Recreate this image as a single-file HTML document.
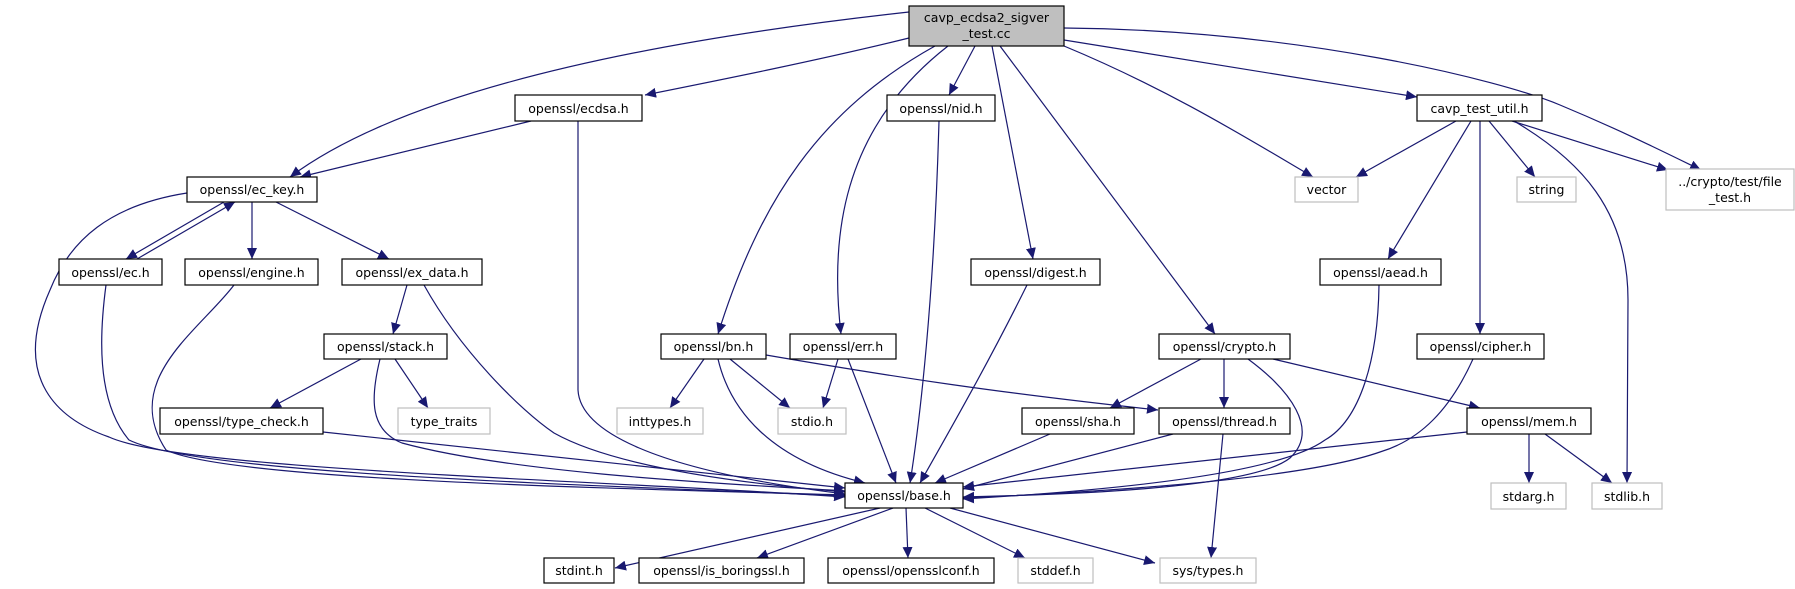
<!DOCTYPE html>
<html><head><meta charset="utf-8"><style>
html,body{margin:0;padding:0;background:#fff;}
svg{display:block;}
text{font-family:"DejaVu Sans","Liberation Sans",sans-serif;font-size:12.5px;fill:#000;}
.n{fill:#fff;stroke:#000;stroke-width:1.2;}
.g{fill:#fff;stroke:#bfbfbf;stroke-width:1.2;}
.e{fill:none;stroke:#191970;stroke-width:1.2;}
</style></head><body>
<svg width="1795" height="589" viewBox="0 0 1795 589" xmlns="http://www.w3.org/2000/svg">
<defs>
<marker id="a" markerUnits="userSpaceOnUse" markerWidth="12" markerHeight="10" refX="11" refY="5" orient="auto">
<path d="M0,0 L11,5 L0,10 z" fill="#191970"/>
</marker>
</defs>
<g marker-end="url(#a)">
<!-- root edges -->
<path class="e" d="M909,12 C700,35 420,80 290,177"/>
<path class="e" d="M909,38 C820,60 720,80 645,95"/>
<path class="e" d="M935,46 C820,110 760,200 718,334"/>
<path class="e" d="M948,46 C840,130 830,240 841,334"/>
<path class="e" d="M975,46 L949,95"/>
<path class="e" d="M992,46 L1033,259"/>
<path class="e" d="M1000,46 L1215,334"/>
<path class="e" d="M1064,46 C1170,90 1250,140 1313,177"/>
<path class="e" d="M1064,40 L1417,97"/>
<path class="e" d="M1064,28 C1300,30 1500,80 1560,105 C1620,130 1660,150 1701,170"/>
<!-- ecdsa -->
<path class="e" d="M531,121 L300,177"/>
<path class="e" d="M578,121 L578,390 C580,430 650,470 845,494"/>
<!-- ec_key -->
<path class="e" d="M224,202 L126,259"/>
<path class="e" d="M137,259 L235,202"/>
<path class="e" d="M252,202 L252,259"/>
<path class="e" d="M276,202 L389,259"/>
<path class="e" d="M187,193 C110,205 70,240 50,290 C10,380 60,420 109,437 C180,470 600,480 845,497"/>
<!-- ec, engine, ex_data -->
<path class="e" d="M106,285 C100,330 95,400 129,440 C200,475 600,485 845,496"/>
<path class="e" d="M234,285 C200,330 120,380 166,450 C230,480 600,488 845,495"/>
<path class="e" d="M407,285 L393,334"/>
<path class="e" d="M424,285 C460,350 520,410 554,433 C620,470 760,485 845,492"/>
<!-- stack -->
<path class="e" d="M361,359 L270,408"/>
<path class="e" d="M395,359 L428,408"/>
<path class="e" d="M380,359 C370,400 370,430 402,443 C520,475 750,485 845,491"/>
<path class="e" d="M323,432 L845,488"/>
<!-- nid, digest -->
<path class="e" d="M939,121 C934,300 920,420 910,483"/>
<path class="e" d="M1027,285 C990,360 950,430 920,483"/>
<!-- bn, err -->
<path class="e" d="M704,359 L670,408"/>
<path class="e" d="M730,359 L790,408"/>
<path class="e" d="M718,359 C730,410 770,460 865,483"/>
<path class="e" d="M766,355 C900,378 1000,393 1158,410"/>
<path class="e" d="M838,359 L823,408"/>
<path class="e" d="M848,359 L896,483"/>
<!-- crypto -->
<path class="e" d="M1201,359 L1110,408"/>
<path class="e" d="M1224,359 L1224,408"/>
<path class="e" d="M1248,359 C1290,390 1320,430 1290,458 C1250,490 1050,495 963,497"/>
<path class="e" d="M1273,359 L1480,408"/>
<!-- ctu -->
<path class="e" d="M1456,121 L1356,177"/>
<path class="e" d="M1471,121 L1388,259"/>
<path class="e" d="M1480,121 L1480,334"/>
<path class="e" d="M1489,121 L1535,177"/>
<path class="e" d="M1512,121 L1668,170"/>
<path class="e" d="M1514,121 C1580,160 1628,210 1628,300 L1627,483"/>
<!-- aead, cipher -->
<path class="e" d="M1379,285 C1378,360 1360,420 1325,440 C1270,480 1050,494 963,499"/>
<path class="e" d="M1473,359 C1450,410 1420,440 1380,452 C1300,480 1100,492 963,498"/>
<!-- sha, thread, mem -->
<path class="e" d="M1050,434 L935,483"/>
<path class="e" d="M1173,434 L963,489"/>
<path class="e" d="M1223,434 L1211,558"/>
<path class="e" d="M1467,432 L963,487"/>
<path class="e" d="M1529,434 L1529,483"/>
<path class="e" d="M1545,434 L1612,483"/>
<!-- base -->
<path class="e" d="M880,508 L615,568"/>
<path class="e" d="M893,508 L757,558"/>
<path class="e" d="M906,508 L908,558"/>
<path class="e" d="M925,508 L1025,558"/>
<path class="e" d="M950,508 L1155,563"/>
</g>
<!-- nodes -->
<rect x="909" y="6" width="155" height="40" fill="#bfbfbf" stroke="#000" stroke-width="1.2"/>
<text x="986.5" y="22" text-anchor="middle">cavp_ecdsa2_sigver</text>
<text x="986.5" y="38" text-anchor="middle">_test.cc</text>

<rect class="n" x="515" y="95" width="127" height="26"/><text x="578.5" y="113" text-anchor="middle">openssl/ecdsa.h</text>
<rect class="n" x="887" y="95" width="108" height="26"/><text x="941" y="113" text-anchor="middle">openssl/nid.h</text>
<rect class="n" x="1417" y="95" width="125" height="26"/><text x="1479.5" y="113" text-anchor="middle">cavp_test_util.h</text>

<rect class="n" x="187" y="177" width="130" height="25"/><text x="252" y="194" text-anchor="middle">openssl/ec_key.h</text>
<rect class="g" x="1295" y="177" width="63" height="25"/><text x="1326.5" y="194" text-anchor="middle">vector</text>
<rect class="g" x="1517" y="177" width="59" height="25"/><text x="1546.5" y="194" text-anchor="middle">string</text>
<rect class="g" x="1666" y="169" width="128" height="41"/>
<text x="1730" y="186" text-anchor="middle">../crypto/test/file</text>
<text x="1730" y="202" text-anchor="middle">_test.h</text>

<rect class="n" x="59" y="259" width="103" height="26"/><text x="110.5" y="277" text-anchor="middle">openssl/ec.h</text>
<rect class="n" x="185" y="259" width="133" height="26"/><text x="251.5" y="277" text-anchor="middle">openssl/engine.h</text>
<rect class="n" x="342" y="259" width="140" height="26"/><text x="412" y="277" text-anchor="middle">openssl/ex_data.h</text>
<rect class="n" x="971" y="259" width="129" height="26"/><text x="1035.5" y="277" text-anchor="middle">openssl/digest.h</text>
<rect class="n" x="1320" y="259" width="121" height="26"/><text x="1380.5" y="277" text-anchor="middle">openssl/aead.h</text>

<rect class="n" x="324" y="334" width="123" height="25"/><text x="385.5" y="351" text-anchor="middle">openssl/stack.h</text>
<rect class="n" x="661" y="334" width="105" height="25"/><text x="713.5" y="351" text-anchor="middle">openssl/bn.h</text>
<rect class="n" x="790" y="334" width="106" height="25"/><text x="843" y="351" text-anchor="middle">openssl/err.h</text>
<rect class="n" x="1159" y="334" width="131" height="25"/><text x="1224.5" y="351" text-anchor="middle">openssl/crypto.h</text>
<rect class="n" x="1417" y="334" width="127" height="25"/><text x="1480.5" y="351" text-anchor="middle">openssl/cipher.h</text>

<rect class="n" x="160" y="408" width="163" height="26"/><text x="241.5" y="426" text-anchor="middle">openssl/type_check.h</text>
<rect class="g" x="398" y="408" width="92" height="26"/><text x="444" y="426" text-anchor="middle">type_traits</text>
<rect class="g" x="617" y="408" width="86" height="26"/><text x="660" y="426" text-anchor="middle">inttypes.h</text>
<rect class="g" x="778" y="408" width="68" height="26"/><text x="812" y="426" text-anchor="middle">stdio.h</text>
<rect class="n" x="1022" y="408" width="112" height="26"/><text x="1078" y="426" text-anchor="middle">openssl/sha.h</text>
<rect class="n" x="1159" y="408" width="131" height="26"/><text x="1224.5" y="426" text-anchor="middle">openssl/thread.h</text>
<rect class="n" x="1467" y="408" width="124" height="26"/><text x="1529" y="426" text-anchor="middle">openssl/mem.h</text>

<rect class="n" x="845" y="483" width="118" height="25"/><text x="904" y="500" text-anchor="middle">openssl/base.h</text>
<rect class="g" x="1491" y="483" width="75" height="26"/><text x="1528.5" y="501" text-anchor="middle">stdarg.h</text>
<rect class="g" x="1592" y="483" width="70" height="26"/><text x="1627" y="501" text-anchor="middle">stdlib.h</text>

<rect class="n" x="544" y="558" width="70" height="25"/><text x="579" y="575" text-anchor="middle">stdint.h</text>
<rect class="n" x="639" y="558" width="165" height="25"/><text x="721.5" y="575" text-anchor="middle">openssl/is_boringssl.h</text>
<rect class="n" x="828" y="558" width="166" height="25"/><text x="911" y="575" text-anchor="middle">openssl/opensslconf.h</text>
<rect class="g" x="1018" y="558" width="75" height="25"/><text x="1055.5" y="575" text-anchor="middle">stddef.h</text>
<rect class="g" x="1160" y="558" width="96" height="25"/><text x="1208" y="575" text-anchor="middle">sys/types.h</text>
</svg>
</body></html>
